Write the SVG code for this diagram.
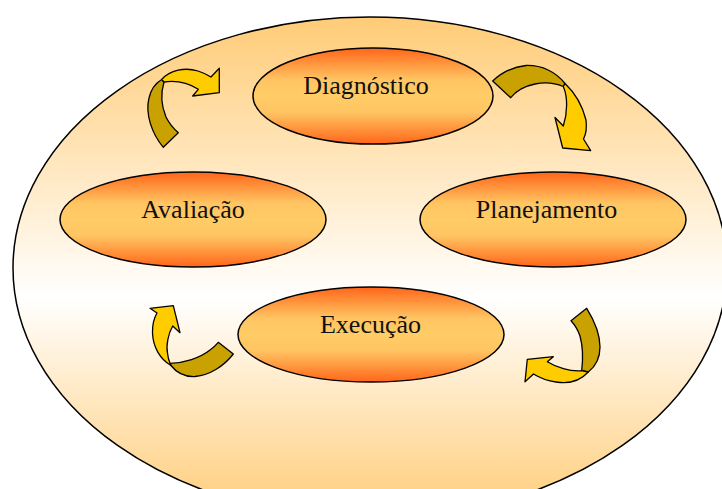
<svg xmlns="http://www.w3.org/2000/svg" width="722" height="489" viewBox="0 0 722 489">
<defs>
<linearGradient id="bgGrad" x1="0" y1="0" x2="0" y2="1">
<stop offset="0" stop-color="#FFCC77"/>
<stop offset="0.56" stop-color="#FFFFFF"/>
<stop offset="1" stop-color="#FFCC77"/>
</linearGradient>
<linearGradient id="nodeGrad" x1="0" y1="0" x2="0" y2="1">
<stop offset="0" stop-color="#FF6619"/>
<stop offset="0.33" stop-color="#FFC563"/>
<stop offset="0.5" stop-color="#FFCC66"/>
<stop offset="0.67" stop-color="#FFC563"/>
<stop offset="1" stop-color="#FF6619"/>
</linearGradient>
</defs>
<style>
.node ellipse{fill:url(#nodeGrad);stroke:#000;stroke-width:1.5}
.node text{font-size:26px;fill:#111;text-anchor:middle}
.back{fill:#C9A100;stroke:#000;stroke-width:1.3;stroke-linejoin:round}
.front{fill:#FFCC00;stroke:#000;stroke-width:1.3;stroke-linejoin:round}
</style>
<rect width="722" height="489" fill="#FFFFFF"/>
<g id="cycle-background">
<ellipse cx="370" cy="268" rx="357" ry="251" fill="url(#bgGrad)" stroke="#000" stroke-width="1.5"/>
</g>
<g id="connectors">
<g id="arrow-avaliacao-diagnostico">
<path class="back" d="M163.3,147.3 C152,134 145,114 149,98 C151,89 156,83 161.7,79.5 L164,82 C161,92 161,105 166,117 C170,125 174,129 178.3,132.7 Z"/>
<path class="front" d="M161.7,79.5 C170,70 185,67 198,71 C204,73 208,75 211,77 L219.3,68.3 L219.3,92.7 L192.7,96 L198.3,89.3 C190,84 178,80 164,82 Z"/>
</g>
<g id="arrow-diagnostico-planejamento">
<path class="back" d="M492.7,81 C500,74 512,67 526,65.5 C542,65 556,72 565,83.5 L563.3,86.5 C555,83 545,82 535,84 C525,86 516,91 510.7,97.7 Z"/>
<path class="front" d="M565,83.5 C574,92 582,104 586,120 C587,128 586,134 583.5,139 L590.7,150.7 L562.7,148 L555,117.5 L563.3,126 C567.5,113 568,97 563.3,86.5 Z"/>
</g>
<g id="arrow-planejamento-execucao">
<path class="back" d="M571,320.7 L586.7,308.3 C594,320 600,335 600,347 C600,358 596,366 588.3,372 L581.7,370.7 C583,360 583,347 580,336 C578,330 575,325 571,320.7 Z"/>
<path class="front" d="M588.3,372 C580,381 568,384 556,382 C548,381 540,378 533.5,374 L525,381.7 L527.3,359.3 L553.3,356.7 L547.3,361.7 C556,367 570,372 581.7,370.7 Z"/>
</g>
<g id="arrow-execucao-avaliacao">
<path class="back" d="M218.3,342.3 L233.3,354 C224,366 210,375 195,376.5 C184,377 176,372 171,365.5 L170,363.3 C184,363 200,358 210,350 C213,348 216,345 218.3,342.3 Z"/>
<path class="front" d="M171,365.5 C160,359 153,347 152.5,333 C152.3,325 154,318 157,313 L150,308.3 L173.3,305.7 L180,332.7 L172.7,326 C168,334 166,346 167.5,353 C168,358 169,361 170,363.3 Z"/>
</g>
</g>
<g id="node-diagnostico" class="node">
<ellipse cx="373" cy="96" rx="120" ry="48"/>
<text x="366" y="94" font-family="Liberation Serif, DejaVu Serif, serif">Diagnóstico</text>
</g>
<g id="node-avaliacao" class="node">
<ellipse cx="193" cy="219.5" rx="133" ry="47.5"/>
<text x="193" y="218" font-family="Liberation Serif, DejaVu Serif, serif">Avaliação</text>
</g>
<g id="node-planejamento" class="node">
<ellipse cx="553" cy="219.5" rx="133" ry="47.5"/>
<text x="546.5" y="218" font-family="Liberation Serif, DejaVu Serif, serif">Planejamento</text>
</g>
<g id="node-execucao" class="node">
<ellipse cx="371" cy="334.5" rx="133" ry="47.5"/>
<text x="370.5" y="333" font-family="Liberation Serif, DejaVu Serif, serif">Execução</text>
</g>
</svg>
